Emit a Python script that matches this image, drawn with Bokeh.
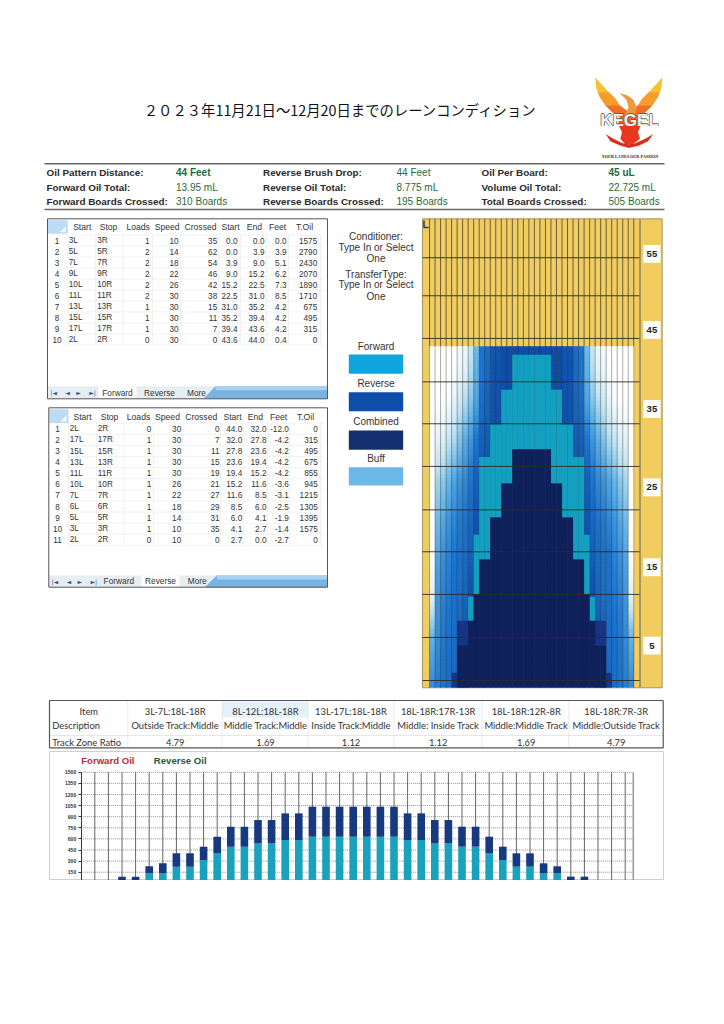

from bokeh.plotting import figure
from bokeh.layouts import column, row
from bokeh.models import Range1d, FixedTicker, ColumnDataSource
from bokeh.core.properties import value
from bokeh.embed import file_html
from bokeh.resources import INLINE
import numpy as np

# ---------- text data ----------
title_text = "２０２３年11月21日～12月20日までのレーンコンディション"
info_labels = [["Oil Pattern Distance:", "Forward Oil Total:", "Forward Boards Crossed:"],
               ["Reverse Brush Drop:", "Reverse Oil Total:", "Reverse Boards Crossed:"],
               ["Oil Per Board:", "Volume Oil Total:", "Total Boards Crossed:"]]
info_values = [["44 Feet", "13.95 mL", "310 Boards"],
               ["44 Feet", "8.775 mL", "195 Boards"],
               ["45 uL", "22.725 mL", "505 Boards"]]

table_headers = ["Start", "Stop", "Loads", "Speed", "Crossed", "Start", "End", "Feet", "T.Oil"]
fwd_no = ["1", "2", "3", "4", "5", "6", "7", "8", "9", "10"]
fwd_start = ["3L", "5L", "7L", "9L", "10L", "11L", "13L", "15L", "17L", "2L"]
fwd_stop = ["3R", "5R", "7R", "9R", "10R", "11R", "13R", "15R", "17R", "2R"]
fwd_loads = ["1", "2", "2", "2", "2", "2", "1", "1", "1", "0"]
fwd_speed = ["10", "14", "18", "22", "26", "30", "30", "30", "30", "30"]
fwd_crossed = ["35", "62", "54", "46", "42", "38", "15", "11", "7", "0"]
fwd_from = ["0.0", "0.0", "3.9", "9.0", "15.2", "22.5", "31.0", "35.2", "39.4", "43.6"]
fwd_end = ["0.0", "3.9", "9.0", "15.2", "22.5", "31.0", "35.2", "39.4", "43.6", "44.0"]
fwd_feet = ["0.0", "3.9", "5.1", "6.2", "7.3", "8.5", "4.2", "4.2", "4.2", "0.4"]
fwd_oil = ["1575", "2790", "2430", "2070", "1890", "1710", "675", "495", "315", "0"]

rev_no = ["1", "2", "3", "4", "5", "6", "7", "8", "9", "10", "11"]
rev_start = ["2L", "17L", "15L", "13L", "11L", "10L", "7L", "6L", "5L", "3L", "2L"]
rev_stop = ["2R", "17R", "15R", "13R", "11R", "10R", "7R", "6R", "5R", "3R", "2R"]
rev_loads = ["0", "1", "1", "1", "1", "1", "1", "1", "1", "1", "0"]
rev_speed = ["30", "30", "30", "30", "30", "26", "22", "18", "14", "10", "10"]
rev_crossed = ["0", "7", "11", "15", "19", "21", "27", "29", "31", "35", "0"]
rev_from = ["44.0", "32.0", "27.8", "23.6", "19.4", "15.2", "11.6", "8.5", "6.0", "4.1", "2.7"]
rev_end = ["32.0", "27.8", "23.6", "19.4", "15.2", "11.6", "8.5", "6.0", "4.1", "2.7", "0.0"]
rev_feet = ["-12.0", "-4.2", "-4.2", "-4.2", "-4.2", "-3.6", "-3.1", "-2.5", "-1.9", "-1.4", "-2.7"]
rev_oil = ["0", "315", "495", "675", "855", "945", "1215", "1305", "1395", "1575", "0"]

legend_names = ["Forward", "Reverse", "Combined", "Buff"]
side_notes = ["Conditioner:", "Type In or Select", "One", "TransferType:", "Type In or Select", "One"]
tab_names = ["Forward", "Reverse", "More"]

track_items = ["3L-7L:18L-18R", "8L-12L:18L-18R", "13L-17L:18L-18R", "18L-18R:17R-13R", "18L-18R:12R-8R", "18L-18R:7R-3R"]
track_desc = ["Outside Track:Middle", "Middle Track:Middle", "Inside Track:Middle", "Middle: Inside Track", "Middle:Middle Track", "Middle:Outside Track"]
track_ratio = ["4.79", "1.69", "1.12", "1.12", "1.69", "4.79"]

# ---------- oil pattern, left half of the lane (board 2 to board 20), feet ----------
half_boards = list(range(2, 21))
combined_ft = [0, 0, 0, 0, 0, 5.4, 5.4, 8.6, 12.0, 16.5, 16.5, 21.9, 21.9, 26.3, 26.3, 30.7, 30.7, 30.7, 30.7]
heavy_ft = [0, 0, 0, 0, 1.9, 8.6, 8.6, 0, 0, 0, 0, 0, 0, 0, 0, 0, 0, 0, 0]
forward_ft = [0, 0, 0, 0, 0, 0, 0, 11.7, 19.7, 29.7, 29.7, 33.9, 33.9, 38.4, 38.4, 42.9, 42.9, 42.9, 42.9]
reverse_end_ft = 44.0
grid_ft = [0.9, 6.45, 12.0, 17.5, 22.9, 28.5, 34.0, 39.4, 45.0, 50.5, 55.4]
lane_labels = ["55", "45", "35", "25", "15", "5"]
lane_label_ft = [55.9, 46.1, 35.9, 25.8, 15.5, 5.4]

# shade of the blue on each board (0 white ... 1 deep blue), read at these distances
shade_ft = [0, 6.1, 11.2, 16.4, 21.5, 26.7, 31.8, 37.0, 40.9, 44]
shade = {
    2:  [.66, .50, .16, .02, 0, 0, 0, 0, 0, 0],
    3:  [.72, .66, .62, .56, .46, .32, .12, 0, 0, 0],
    4:  [.76, .74, .70, .65, .54, .38, .14, 0, 0, 0],
    5:  [.80, .78, .74, .70, .62, .47, .24, .03, 0, 0],
    6:  [.82, .80, .78, .76, .68, .55, .30, .10, .02, 0],
    7:  [.88, .88, .80, .78, .73, .62, .42, .20, .08, .03],
    8:  [.92, .92, .86, .82, .76, .67, .52, .28, .12, .07],
    9:  [1, 1, 1, .90, .84, .76, .62, .40, .28, .22],
    10: [1, 1, 1, 1, .95, .88, .75, .55, .50, .45],
    11: [1, 1, 1, 1, 1, .95, .88, .80, .75, .75],
    12: [1, 1, 1, 1, 1, .97, .90, .85, .82, .80],
    13: [1, 1, 1, 1, 1, 1, .98, .97, .96, .95],
    14: [1, 1, 1, 1, 1, 1, .98, .97, .96, .95],
    15: [1] * 10, 16: [1] * 10, 17: [1] * 10, 18: [1] * 10, 19: [1] * 10, 20: [1] * 10,
}

# ---------- bar chart ----------
bar_boards = list(range(3, 38))
forward_oil = [0, 0, 135, 135, 225, 225, 315, 405, 495, 495, 540, 540, 585, 585, 630, 630, 630, 630, 630,
               630, 630, 585, 585, 540, 540, 495, 495, 405, 315, 225, 225, 135, 135, 0, 0]
reverse_oil = [90, 90, 95, 135, 180, 180, 180, 225, 270, 270, 315, 315, 360, 360, 405, 405, 405, 405, 405,
               405, 405, 360, 360, 315, 315, 270, 270, 225, 180, 180, 180, 135, 95, 90, 90]
oil_ticks = [150, 300, 450, 600, 750, 900, 1050, 1200, 1350, 1500]

# ---------- colours ----------
GOLD = "#f1cd60"
NAVY = "#101f58"
MID = "#16317f"
TEAL = "#14a8c2"
INK = "#222222"
GREEN = "#1f6b3c"
LEGEND_COLORS = ["#10a5dc", "#0d4fa8", "#13306f", "#6cb8e8"]
SANS = value("Liberation Sans")
NARROW = value("Lato")


def canvas(w, h, xr, yr):
    p = figure(width=w, height=h, x_range=Range1d(*xr), y_range=Range1d(*yr),
               output_backend="svg", toolbar_location=None, min_border=0,
               outline_line_color=None, x_axis_location=None, y_axis_location=None)
    p.grid.visible = False
    return p


def write(p, x, y, s, size=9, color=INK, align="left", style="normal", font=SANS):
    p.text(x=[x], y=[y], text=[s], text_font=font, text_font_size=f"{size}px", text_color=color,
           text_align=align, text_baseline="middle", text_font_style=style)


# ---------- header ----------
head = canvas(708, 208, (8, 716), (216, 8))
write(head, 340, 109, title_text, size=14.35, color="#111111", align="center", font=value("Noto Sans CJK JP"))
for yy in (163.3, 209):
    head.line([44, 664], [yy, yy], line_color="#666666", line_width=1.4)
label_x = [46, 262.5, 481]
value_x = [175.5, 396, 608]
row_y = [172.3, 186.7, 200.7]
for c in range(3):
    for r in range(3):
        write(head, label_x[c], row_y[r], info_labels[c][r], size=9.9, style="bold", color="#2a2a2a")
        write(head, value_x[c], row_y[r], info_values[c][r], size=10, color=GREEN,
              style="bold" if r == 0 and c != 1 else "normal")


def logo_poly(pts, color):
    xs = [560 + a / 3 for a, b in pts]
    ys = [70 + b / 3 for a, b in pts]
    head.patch(xs, ys, fill_color=color, line_color=color, line_width=0.3)


wing_parts = [
    ([(105, 22), (107, 50), (112, 65), (145, 65), (120, 38)], "#f6c22f"),
    ([(112, 65), (118, 80), (135, 105), (178, 105), (165, 85), (145, 65)], "#f59d2a"),
    ([(135, 105), (155, 125), (175, 138), (205, 150), (205, 125), (178, 105)], "#ef6e24"),
]
for pts, col in wing_parts:
    logo_poly(pts, col)
    logo_poly([(410 - a, b) for a, b in pts], col)
logo_poly([(178, 68), (200, 75), (218, 88), (228, 110), (222, 140), (190, 140), (205, 110), (198, 88)], "#e99a3d")
logo_poly([(180, 135), (232, 135), (240, 165), (172, 165)], "#ee5a22")
logo_poly([(175, 165), (240, 165), (232, 185), (238, 205), (215, 222), (195, 222), (180, 205), (185, 185)], "#e8391f")
logo_poly([(137, 192), (150, 212), (180, 225), (205, 232), (235, 225), (262, 212), (277, 192), (255, 205),
           (225, 218), (205, 222), (185, 218), (158, 205)], "#d92c1c")
for dx, dy in ((-.7, 0), (.7, 0), (0, -.7), (0, .7)):
    write(head, 629 + dx, 119.5 + dy, "KEGEL", size=17, color="#5f5f5f", align="center", style="bold")
write(head, 629, 119.5, "KEGEL", size=17, color="#f4f4f4", align="center", style="bold")
write(head, 630, 155.7, "YOUR LANES  OUR PASSION", size=4.2, color="#222222", align="center",
      style="bold", font=value("Liberation Serif"))

# ---------- left side: tables and legend ----------
left = canvas(412, 476, (8, 420), (692, 216))


def draw_table(p, box, rows, row0, dy, head_y, cols, heads, sep, tab_y, tab_x, active):
    x0, x1, y0, y1 = box
    n = len(rows[0])
    p.quad(left=[x0], right=[x1], top=[y0], bottom=[y1], fill_color="white", line_color=None)
    p.quad(left=[x0 + .5], right=[sep[0]], top=[y0 + 1.5], bottom=[head_y + 6.5], fill_color="#bcdcf5", line_color=None)
    p.patch([sep[0] - 8, sep[0] - 2, sep[0] - 2], [head_y + 5, head_y + 5, head_y - 1], fill_color="#f4fafe", line_color=None)
    ys = [row0 - dy / 2 + i * dy for i in range(n + 1)]
    p.multi_line([[sep[0], x1 - 4]] * len(ys), [[v, v] for v in ys], line_color="#d5d5d5", line_width=.6, line_dash="1 1")
    p.multi_line([[v, v] for v in sep], [[ys[0], ys[-1]]] * len(sep), line_color="#d5d5d5", line_width=.6, line_dash="1 1")
    p.quad(left=[x0], right=[x1], top=[tab_y[0]], bottom=[tab_y[1]], fill_color="#e8edf2", line_color=None)
    p.patch([x0 + 168, x1, x1, x0 + 156], [tab_y[0], tab_y[0], tab_y[1], tab_y[1]], fill_color="#79b3e0", line_color=None)
    p.quad(left=[x0 + 168], right=[x1], top=[tab_y[0]], bottom=[tab_y[0] + 4], fill_color="#a9d2f1", line_color=None)
    ax = tab_x[active]
    p.quad(left=[ax - 19], right=[ax + 19], top=[tab_y[0]], bottom=[tab_y[1]], fill_color="white", line_color=None)
    mid = (tab_y[0] + tab_y[1]) / 2
    for tx, glyph in zip((x0 + 6, x0 + 20, x0 + 31, x0 + 45), ("|◄", "◄", "►", "►|")):
        write(p, tx, mid, glyph, size=6, color="#1b5a96", align="center", font=value("DejaVu Sans"))
    for nm, tx in zip(tab_names, tab_x):
        write(p, tx, mid, nm, size=8.3, color="#333333", align="center")
    p.quad(left=[x0], right=[x1], top=[y0], bottom=[y1], fill_color=None, line_color="#555555", line_width=1)
    for h, hx in zip(heads, cols["head_x"]):
        write(p, hx, head_y, h, size=8.6, color="#333333", align="center")
    cx = cols["cell_x"]
    al = ["center", "left", "left"] + ["right"] * 7
    for c in range(10):
        for i, s in enumerate(rows[c]):
            write(p, cx[c], row0 + i * dy, s, size=8.2, color="#333333", align=al[c])


draw_table(left, (47, 327, 218.3, 398.3),
           [fwd_no, fwd_start, fwd_stop, fwd_loads, fwd_speed, fwd_crossed, fwd_from, fwd_end, fwd_feet, fwd_oil],
           240, 11, 226.7,
           dict(head_x=[81.7, 108, 137.7, 166.7, 200, 230, 254, 277, 304],
                cell_x=[56.5, 68.3, 96.7, 149, 178, 216.7, 237, 264, 286, 316.7]),
           table_headers, [67.3, 95, 122.7, 152, 180, 218.3, 240, 266, 288, 320],
           (385.7, 398.3), [117, 159, 196], 0)

draw_table(left, (48.3, 327, 407.3, 586.7),
           [rev_no, rev_start, rev_stop, rev_loads, rev_speed, rev_crossed, rev_from, rev_end, rev_feet, rev_oil],
           428.3, 11.1, 416,
           dict(head_x=[82, 109, 138, 167, 200.7, 232, 255, 278, 305],
                cell_x=[57, 69.3, 97.3, 150.7, 180.7, 219, 241.7, 266, 288.3, 317.3]),
           table_headers, [68, 96, 123.5, 153, 181.5, 220, 242.5, 267, 289, 320],
           (575, 586.7), [118.3, 160, 196.7], 1)

note_y = [235.7, 246.7, 257.7, 273.7, 284.3, 295.7]
for s, yy in zip(side_notes, note_y):
    write(left, 375.5, yy, s, size=10, color="#333333", align="center")
legend_text_y = [345.7, 383.3, 421, 458.3]
legend_box = [(354, 373.3), (391.7, 410.7), (430, 449.3), (466.7, 485)]
for nm, col, yy, (b0, b1) in zip(legend_names, LEGEND_COLORS, legend_text_y, legend_box):
    write(left, 375.5, yy, nm, size=10, color="#333333", align="center")
    left.quad(left=[348.3], right=[402.7], top=[b0], bottom=[b1], fill_color=col, line_color=None)

# ---------- oil pattern ----------
CELL = 5.52
PX_FT = 7.757


def bx(px):
    return .5 + (px - 423.5) / CELL


def ft(py):
    return (687 - py) / PX_FT


lane = canvas(296, 476, (bx(420), bx(716)), (ft(692), ft(216)))
lane.quad(left=[bx(422)], right=[bx(639)], bottom=[ft(687.3)], top=[ft(218.3)], fill_color=GOLD, line_color="#8f8248", line_width=.8)
lane.quad(left=[bx(640)], right=[bx(661.7)], bottom=[ft(687.3)], top=[ft(218.3)], fill_color=GOLD, line_color="#8f8248", line_width=.8)

STOPS = [0, .25, .5, .75, 1]
STOP_RGB = np.array([[255, 255, 255], [191, 227, 242], [92, 177, 232], [27, 117, 207], [13, 78, 168]], dtype=float)


def shade_color(s):
    r = [np.interp(s, STOPS, STOP_RGB[:, i]) for i in range(3)]
    return "#%02x%02x%02x" % tuple(int(round(v)) for v in r)


levels = np.arange(0, reverse_end_ft + .001, 0.5)
sl, sr, sb, st, sc = [], [], [], [], []
all_boards = half_boards + [40 - b for b in reversed(half_boards[:-1])]
for b in all_boards:
    key = b if b <= 20 else 40 - b
    for a, z in zip(levels[:-1], levels[1:]):
        sl.append(b - .5); sr.append(b + .55); sb.append(a)
        st.append(min(z + .12, reverse_end_ft))
        sc.append(shade_color(np.interp((a + z) / 2, shade_ft, shade[key])))
lane.quad(left=sl, right=sr, bottom=sb, top=st, fill_color=sc, line_color=None)

edges = [k + .5 for k in range(1, 39)]
lane.multi_line([[e, e] for e in edges], [[reverse_end_ft, ft(218.3)]] * len(edges), line_color="#2b2b2b", line_width=.8, line_alpha=.85)
lane.multi_line([[e, e] for e in edges], [[ft(687.3), reverse_end_ft]] * len(edges), line_color="#2b2b2b", line_width=.7, line_alpha=.55)

mirror = lambda arr: list(arr) + list(reversed(arr[:-1]))
pattern = ColumnDataSource(dict(
    board=all_boards, combined=mirror(combined_ft), heavy=mirror(heavy_ft), forward=mirror(forward_ft),
    zero=[0] * len(all_boards),
))
lane.vbar(x="board", width=1.02, bottom="combined", top="forward", source=pattern, fill_color=TEAL, fill_alpha=.9, line_color=None)
lane.vbar(x="board", width=1.02, bottom="zero", top="heavy", source=pattern, fill_color=MID, fill_alpha=.93, line_color=None)
lane.vbar(x="board", width=1.02, bottom="zero", top="combined", source=pattern, fill_color=NAVY, fill_alpha=.96, line_color=None)

lane.multi_line([[bx(422), bx(639)]] * len(grid_ft), [[g, g] for g in grid_ft], line_color="#2b2b2b", line_width=1, line_alpha=.9)

for s, f in zip(lane_labels, lane_label_ft):
    lane.quad(left=[bx(642.8)], right=[bx(660)], bottom=[f - 1.15], top=[f + 1.15], fill_color="white", line_color=None)
    write(lane, bx(651.4), f, s, size=9.5, color="#222222", align="center", style="bold")

lane.line([bx(423.5), bx(423.5), bx(428)], [ft(220), ft(227), ft(227)], line_color="#27406b", line_width=1.6)

# ---------- track zone table ----------
track = canvas(708, 58, (8, 716), (750, 692))
col_edges = [49, 127.3, 221.7, 307.7, 393.3, 481.3, 568.3, 662.7]
col_mid = [174.7, 265, 350.5, 437.7, 525.7, 615.7]
track.quad(left=[col_edges[2]], right=[col_edges[3]], top=[701], bottom=[717], fill_color="#e4f0fa", line_color=None)
track.multi_line([[v, v] for v in col_edges[1:-1]], [[701, 747]] * 6, line_color="#cccccc", line_width=.7, line_dash="1 1")
track.line([49, 662.7], [735, 735], line_color="#bbbbbb", line_width=.7, line_dash="1 1")
track.quad(left=[49], right=[662.7], top=[700], bottom=[747.3], fill_color=None, line_color="#555555", line_width=1.2)
write(track, 88.3, 710.7, "Item", size=9.4, color="#333333", align="center", font=NARROW)
write(track, 51.7, 725, "Description", size=9.4, color="#333333", font=NARROW)
write(track, 51.7, 742, "Track Zone Ratio", size=9.4, color="#333333", font=NARROW)
for x, a, b, c in zip(col_mid, track_items, track_desc, track_ratio):
    write(track, x, 710.7, a, size=9.4, color="#333333", align="center", font=NARROW)
    write(track, x, 725, b, size=9.4, color="#333333", align="center", font=NARROW)
    write(track, x, 742, c, size=9.4, color="#333333", align="center", font=NARROW)

# ---------- oil per board bars ----------
BAR_SLOT = 13.6
OIL_PX = 150 / 11.1


def bar_x(px):
    return (px - 80.7) / BAR_SLOT


def bar_y(py):
    return (882.8 - py) * OIL_PX


bars = figure(width=615, height=129, x_range=Range1d(bar_x(49), bar_x(664)), y_range=Range1d(bar_y(880), bar_y(751)),
              output_backend="svg", toolbar_location=None, margin=(1, 0, 0, 41), min_border=0,
              outline_line_color="#cfcfcf")
bars.grid.visible = False
bars.xaxis.visible = False
bars.yaxis.fixed_location = 0
bars.yaxis.bounds = (bar_y(880), 1500)
bars.yaxis.ticker = FixedTicker(ticks=oil_ticks)
bars.yaxis.minor_tick_line_color = None
bars.yaxis.major_tick_line_color = "#333333"
bars.yaxis.major_tick_out = 3
bars.yaxis.major_tick_in = 0
bars.yaxis.major_label_text_font_size = "5px"
bars.yaxis.major_label_text_font_style = "bold"
bars.yaxis.major_label_text_color = "#333333"
bars.yaxis.major_label_standoff = 2
bars.yaxis.axis_line_color = "#333333"
plot_right = bar_x(632.7)
board_grid = list(range(1, 41)) + [plot_right]
bars.multi_line([[k, k] for k in board_grid], [[bar_y(880), 1500]] * len(board_grid), line_color="#666666", line_width=1)
bars.multi_line([[0, plot_right]] * len(oil_ticks), [[t, t] for t in oil_ticks], line_color="#444444", line_width=.6, line_dash="1 1")
stack = ColumnDataSource(dict(board=bar_boards, forward=forward_oil, reverse=reverse_oil,
                              total=[a + b for a, b in zip(forward_oil, reverse_oil)],
                              zero=[0] * len(bar_boards)))
bars.vbar(x="board", width=.56, bottom="zero", top="forward", source=stack, fill_color="#19a2bc", line_color=None)
bars.vbar(x="board", width=.56, bottom="forward", top="total", source=stack, fill_color="#17397f", line_color=None)
write(bars, bar_x(80.7), bar_y(760), "Forward Oil", size=9.6, color="#c02a3a", style="bold")
write(bars, bar_x(153.3), bar_y(760), "Reverse Oil", size=9.6, color="#1f5b3a", style="bold")

page = column(head, row(left, lane, spacing=0), track, bars, spacing=0, margin=(8, 0, 0, 8))
open("out.html", "w").write(file_html(page, INLINE))
